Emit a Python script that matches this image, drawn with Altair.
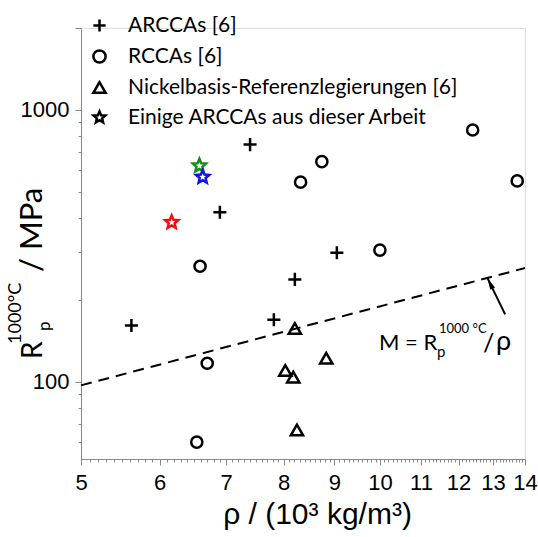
import altair as alt
import pandas as pd

# ---------------- data ----------------
groups = ["ARCCAs [6]", "RCCAs [6]", "Nickelbasis-Referenzlegierungen [6]",
          "Einige ARCCAs aus dieser Arbeit"]

arcca_rho = [7.40, 6.90, 9.05, 8.21, 5.62, 7.82]
arcca_rp = [745, 420, 298, 238, 161, 169]

rcca_rho = [12.40, 8.74, 8.32, 13.75, 10.00, 6.59, 6.70, 6.54]
rcca_rp = [843, 645, 542, 548, 305, 266, 117, 60]

ni_rho = [8.21, 8.83, 8.03, 8.18, 8.25]
ni_rp = [157, 122, 110, 104, 66.5]

own_rho = [6.58, 6.63, 6.17]
own_rp = [623, 566, 386]
own_colors = ["#14901a", "#1010f0", "#f01010"]

line_rho = [5, 14]
line_rp = [97, 262]

arrow_rho = [13.37, 12.83]
arrow_rp = [177, 241]

x_major = [5, 6, 7, 8, 9, 10, 11, 12, 13, 14]
x_minor_step = 0.1
y_ticks = [60, 70, 80, 90, 100, 200, 300, 400, 500, 600, 700, 800, 900, 1000, 2000]
y_labels = [100, 1000]

# ---------------- tables ----------------
plus_path = "M-1,0L1,0M0,-1L0,1"
star_path = ("M0,-1L0.265,-0.364L0.951,-0.309L0.428,0.139L0.588,0.809L0,0.45"
             "L-0.588,0.809L-0.428,0.139L-0.951,-0.309L-0.265,-0.364Z")
shape_range = [plus_path, "circle", "triangle-up", star_path]
size_by_group = {groups[0]: 170, groups[1]: 125, groups[2]: 150, groups[3]: 190}

rows = []
for r, v in zip(arcca_rho, arcca_rp):
    rows.append({"rho": r, "rp": v, "group": groups[0], "color": "black"})
for r, v in zip(rcca_rho, rcca_rp):
    rows.append({"rho": r, "rp": v, "group": groups[1], "color": "black"})
for r, v in zip(ni_rho, ni_rp):
    rows.append({"rho": r, "rp": v, "group": groups[2], "color": "black"})
for r, v, c in zip(own_rho, own_rp, own_colors):
    rows.append({"rho": r, "rp": v, "group": groups[3], "color": c})
df = pd.DataFrame(rows)
df["size"] = df["group"].map(size_by_group)

line_df = pd.DataFrame({"rho": line_rho, "rp": line_rp})
arrow_df = pd.DataFrame({"rho": arrow_rho, "rp": arrow_rp})
head_df = arrow_df.iloc[[1]]

x_ticks = [round(x_major[0] + x_minor_step * i, 1)
           for i in range(int(round((x_major[-1] - x_major[0]) / x_minor_step)) + 1)]

FONT = "Lato"
W, H = 444, 431

x_scale = alt.Scale(type="log", domain=[5, 14], nice=False)
y_scale = alt.Scale(type="log", domain=[52, 2000], nice=False)

is_int = "abs(datum.value - round(datum.value)) < 0.01"
x_axis = alt.Axis(
    values=x_ticks,
    labelExpr=f"{is_int} ? format(datum.value, 'd') : ''",
    tickSize={"condition": {"test": is_int, "value": 6}, "value": 3},
    labelOverlap=False, labelFlush=False, labelFontSize=22, labelPadding=7,
    title="ρ / (10³ kg/m³)", titleFontSize=30, titleFontWeight="normal",
    titlePadding=6, titleX=236, titleAlign="center", grid=False,
)
is_lab = " || ".join(f"datum.value == {v}" for v in y_labels)
y_axis = alt.Axis(
    values=y_ticks,
    labelExpr=f"({is_lab}) ? format(datum.value, 'd') : ''",
    tickSize={"condition": {"test": is_lab + " || datum.value == 2000", "value": 6}, "value": 3},
    labelOverlap=False, labelFlush=False, labelFontSize=22, labelPadding=6,
    title=None, grid=False,
)

legend = alt.Legend(
    title=None, orient="none", legendX=8, legendY=-13, padding=0,
    labelFont=FONT, labelFontSize=21, labelColor="black", labelLimit=0,
    symbolSize=150, symbolStrokeWidth=2.5, symbolStrokeColor="black",
    symbolFillColor="transparent", rowPadding=8, labelOffset=18,
)

points = alt.Chart(df).mark_point(filled=False, strokeWidth=2.5, opacity=1).encode(
    x=alt.X("rho:Q", scale=x_scale, axis=x_axis),
    y=alt.Y("rp:Q", scale=y_scale, axis=y_axis),
    shape=alt.Shape("group:N", scale=alt.Scale(domain=groups, range=shape_range), legend=legend),
    color=alt.Color("color:N", scale=None),
    size=alt.Size("size:Q", scale=None),
)

dash_line = alt.Chart(line_df).mark_line(color="black", strokeWidth=2, strokeDash=[11, 7]).encode(
    x=alt.X("rho:Q", scale=x_scale, axis=x_axis), y=alt.Y("rp:Q", scale=y_scale, axis=y_axis)
)

arrow_line = alt.Chart(arrow_df).mark_line(color="black", strokeWidth=2).encode(
    x=alt.X("rho:Q", scale=x_scale, axis=x_axis), y=alt.Y("rp:Q", scale=y_scale, axis=y_axis)
)
arrow_head = alt.Chart(head_df).mark_point(
    shape="M0,0L0.22,1L-0.22,1Z", filled=True, color="black", size=576, angle=334, opacity=1
).encode(x=alt.X("rho:Q", scale=x_scale, axis=x_axis), y=alt.Y("rp:Q", scale=y_scale, axis=y_axis))


def txt(s, x, y, size, angle=0):
    return alt.Chart(pd.DataFrame({"t": [s]})).mark_text(
        font=FONT, fontSize=size, color="black", align="left", baseline="alphabetic",
        angle=angle,
    ).encode(text="t:N", x=alt.value(x), y=alt.value(y))


# annotation M = Rp^1000°C / rho
ann = [
    txt("M = R", 298, 322, 22),
    txt("p", 356, 329, 15),
    txt("1000 °C", 358, 305, 13),
    txt("/", 402, 324, 25),
    txt("ρ", 415, 322, 27),
]
# y-axis title pieces (rotated)
ytitle = [
    txt("R", -39, 331, 28, 270),
    txt("p", -31, 303, 17, 270),
    txt("1000°C", -60, 316, 18, 270),
    txt("/ MPa", -39, 244, 31, 270),
]

chart = alt.layer(dash_line, arrow_line, arrow_head, points, *ann, *ytitle).properties(
    width=W, height=H,
    autosize=alt.AutoSizeParams(type="none"),
    padding={"left": 81, "top": 28, "right": 13, "bottom": 78},
).configure_view(stroke=None).configure_axis(
    domainColor="black", domainWidth=1.8, tickColor="black", tickWidth=1.5,
    labelColor="black", titleColor="black", labelFont=FONT, titleFont=FONT,
).configure(background="white")

chart.save("out.html", embed_options={"renderer": "svg", "actions": False})
